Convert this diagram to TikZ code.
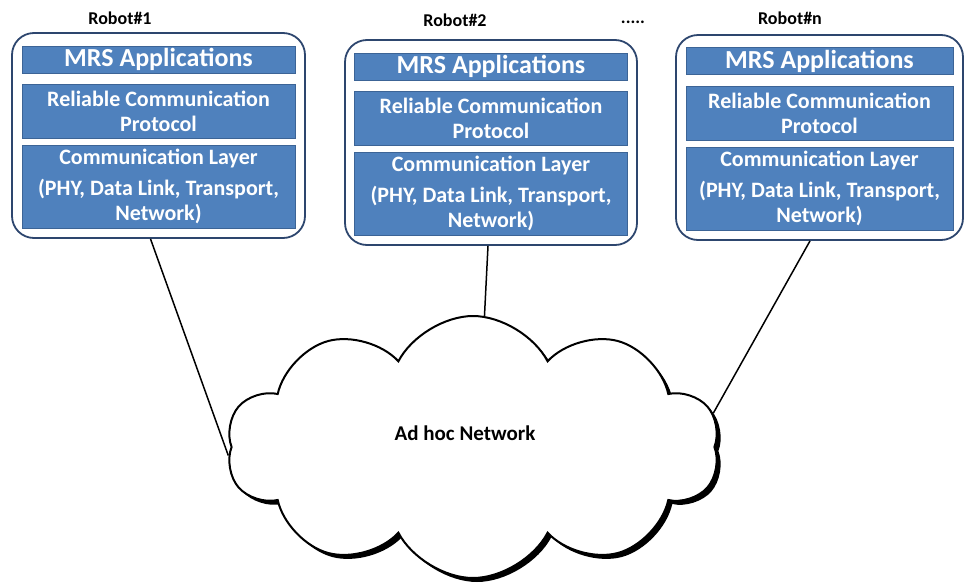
\documentclass[tikz,border=0pt]{standalone}
\usepackage{fontspec}
\setmainfont{Carlito}
\usetikzlibrary{shapes.symbols}
\definecolor{layerblue}{RGB}{79,129,189}
\definecolor{layeredge}{RGB}{60,100,150}
\definecolor{robotedge}{RGB}{45,70,110}
\begin{document}
\begin{tikzpicture}[x=1pt,y=-1pt,
    robot/.style={draw=robotedge,line width=1.8pt,rounded corners=22pt,minimum width=293pt,minimum height=205pt},
    layer/.style={fill=layerblue,draw=layeredge,text=white,align=center,inner sep=0pt,
      font=\bfseries\fontsize{22}{25}\selectfont,minimum width=273pt},
    apps/.style={layer,minimum height=27pt,font=\bfseries\fontsize{26}{27}\selectfont},
    tag/.style={font=\bfseries\fontsize{18}{20}\selectfont},
    puffs/.style={cloud,cloud puffs=10,cloud puff arc=125,cloud ignores aspect,
      minimum width=493pt,minimum height=262pt}]
        \useasboundingbox (0,0) rectangle (966,584);
        % robot 1
        \node[tag] (t1) at (120,18) {Robot\#1};
        \node[robot] (r1) at (158.5,135.5) {};
        \node[apps] (a1) at (158.5,59.5) {MRS Applications};
        \node[layer,minimum height=54pt] (p1) at (158.5,111) {Reliable Communication\\Protocol};
        \node[layer,minimum height=83pt] (c1) at (158.5,186.5) {Communication Layer\\[6pt](PHY, Data Link, Transport,\\Network)};
        % robot 2
        \node[tag] (t2) at (455,20) {Robot\#2};
        \node[tag] (dots) at (633,22) {.....};
        \node[robot,minimum width=292pt] (r2) at (491,142.5) {};
        \node[apps] (a2) at (491,66.5) {MRS Applications};
        \node[layer,minimum height=54pt] (p2) at (491,118) {Reliable Communication\\Protocol};
        \node[layer,minimum height=83pt] (c2) at (491,193.5) {Communication Layer\\[6pt](PHY, Data Link, Transport,\\Network)};
        % robot n
        \node[tag] (t3) at (790,18) {Robot\#n};
        \node[robot,minimum width=287pt] (r3) at (819.5,137.5) {};
        \node[apps,minimum width=267pt] (a3) at (819.5,61) {MRS Applications};
        \node[layer,minimum width=267pt,minimum height=54pt] (p3) at (819.5,113) {Reliable Communication\\Protocol};
        \node[layer,minimum width=267pt,minimum height=83pt] (c3) at (819.5,188.5) {Communication Layer\\[6pt](PHY, Data Link, Transport,\\Network)};
        % ad hoc network
        \node[puffs,fill=black] (shade) at (477,451) {};
        \node[puffs,draw=black,fill=white,line width=2pt] (cloud) at (473,447) {};
        \node[font=\bfseries\fontsize{21}{24}\selectfont] (net) at (465,433) {Ad hoc Network};
        \draw[line width=1.5pt] ([xshift=-8pt]r1.south) -- (cloud.182);
        \draw[line width=1.5pt] ([xshift=-3pt]r2.south) -- (cloud.85);
        \draw[line width=1.5pt] ([xshift=-9.5pt]r3.south) -- (cloud.8);
      \end{tikzpicture}
\end{document}
